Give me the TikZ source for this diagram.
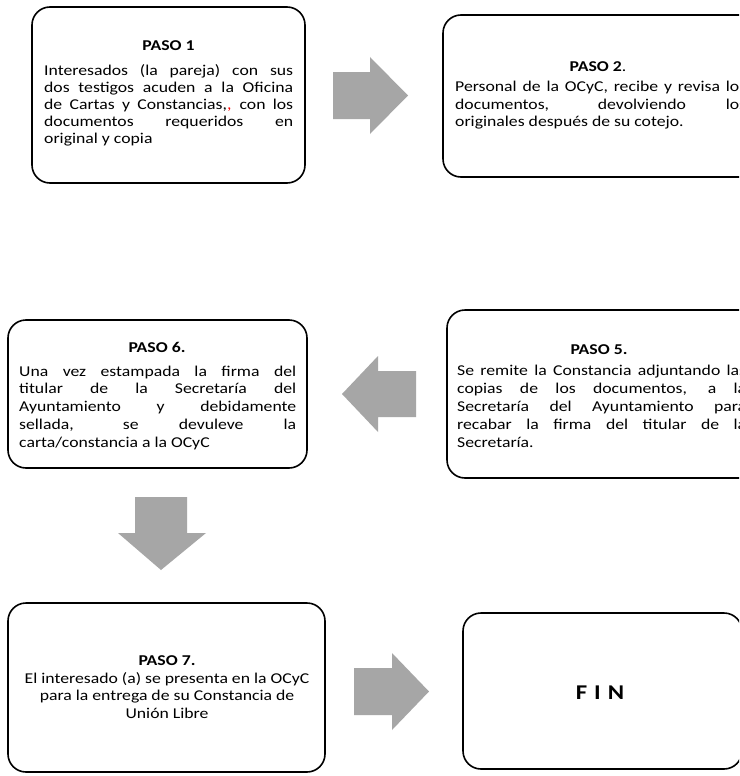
\documentclass[tikz,border=0pt]{standalone}
\usepackage{fontspec}
\setmainfont{Carlito}[FakeStretch=1.18]
\definecolor{arrowgray}{HTML}{A6A6A6}
\newcommand{\jline}[2]{\makebox[#1][s]{#2}}
\begin{document}
\begin{tikzpicture}[x=1pt,y=-1pt,
  stepbox/.style={draw=black, line width=1.6pt, rounded corners=18pt, inner sep=0pt, outer sep=0pt, anchor=north west},
  steptitle/.style={font=\fontsize{15}{17.5}\selectfont\bfseries, anchor=base, inner sep=0pt},
  steptext/.style={anchor=base west, inner sep=0pt},
  blockarrow/.style={fill=arrowgray, draw=none}]
\useasboundingbox (0,0) rectangle (739,776);
\clip (0,0) rectangle (739,776);
\fill[white] (0,0) rectangle (739,776);

% boxes
\node[stepbox, minimum width=317pt, minimum height=162pt] (b2) at (443,15) {};
\node[stepbox, minimum width=273pt, minimum height=176pt] (b1) at (32,7) {};
\node[stepbox, minimum width=314pt, minimum height=168pt] (b5) at (447,310) {};
\node[stepbox, minimum width=299pt, minimum height=148pt] (b6) at (8,320) {};
\node[stepbox, minimum width=317pt, minimum height=169pt] (b7) at (8,603) {};
\node[stepbox, minimum width=279pt, minimum height=156pt] (b8) at (463,613) {};

% titles
\node[steptitle] (h1) at (168.5,51) {PASO 1};
\node[steptitle] (h2) at (598,71) {PASO 2\textmd{.}};
\node[steptitle] (h5) at (599,354) {PASO 5.};
\node[steptitle] (h6) at (157,352) {PASO 6.};
\node[steptitle] (h7) at (167,665) {PASO 7.};
\node[font=\fontsize{21}{26}\selectfont\bfseries, anchor=base, inner sep=0pt] (fin) at (600,699) {F\hspace{7pt}I\hspace{7pt}N};

% texts
\node[steptext] (t1) at (44,75) {\parbox[t]{249pt}{\fontsize{15}{17.1}\selectfont
\jline{249pt}{Interesados (la pareja) con sus}\\
\jline{249pt}{dos testigos acuden a la Oficina}\\
\jline{249pt}{de Cartas y Constancias,{\color{red},} con los}\\
\jline{249pt}{documentos requeridos en}\\
original y copia}};

\node[steptext] (t2) at (455,92) {\parbox[t]{291pt}{\fontsize{15}{17.1}\selectfont
\jline{291pt}{Personal de la OCyC, recibe y revisa los}\\
\jline{291pt}{documentos, devolviendo los}\\
originales después de su cotejo.}};

\node[steptext] (t5) at (457,375) {\parbox[t]{289pt}{\fontsize{15}{18}\selectfont
\jline{289pt}{Se remite la Constancia adjuntando las}\\
\jline{289pt}{copias de los documentos, a la}\\
\jline{289pt}{Secretaría del Ayuntamiento para}\\
\jline{289pt}{recabar la firma del titular de la}\\
Secretaría.}};

\node[steptext] (t6) at (19,376) {\parbox[t]{277pt}{\fontsize{15}{17.8}\selectfont
\jline{277pt}{Una vez estampada la firma del}\\
\jline{277pt}{titular de la Secretaría del}\\
\jline{277pt}{Ayuntamiento y debidamente}\\
\jline{277pt}{sellada, se devuleve la}\\
carta/constancia a la OCyC}};

\node[anchor=base, inner sep=0pt] (t7) at (167,683) {\parbox[t]{320pt}{\centering\fontsize{15}{17.5}\selectfont
El interesado (a) se presenta en la OCyC\\
para la entrega de su Constancia de\\
Unión Libre}};

% block arrows
\path[blockarrow] (333,72) -- (370,72) -- (370,57) -- (408,95.5) -- (370,134) -- (370,119) -- (333,119) -- cycle;
\path[blockarrow] (416,371) -- (378,371) -- (378,356) -- (342,394) -- (378,432) -- (378,417) -- (416,417) -- cycle;
\path[blockarrow] (135,497) -- (187,497) -- (187,533) -- (206,533) -- (161,570) -- (118,533) -- (135,533) -- cycle;
\path[blockarrow] (354,668) -- (392,668) -- (392,653) -- (429,691.5) -- (392,730) -- (392,715) -- (354,715) -- cycle;
\end{tikzpicture}
\end{document}
